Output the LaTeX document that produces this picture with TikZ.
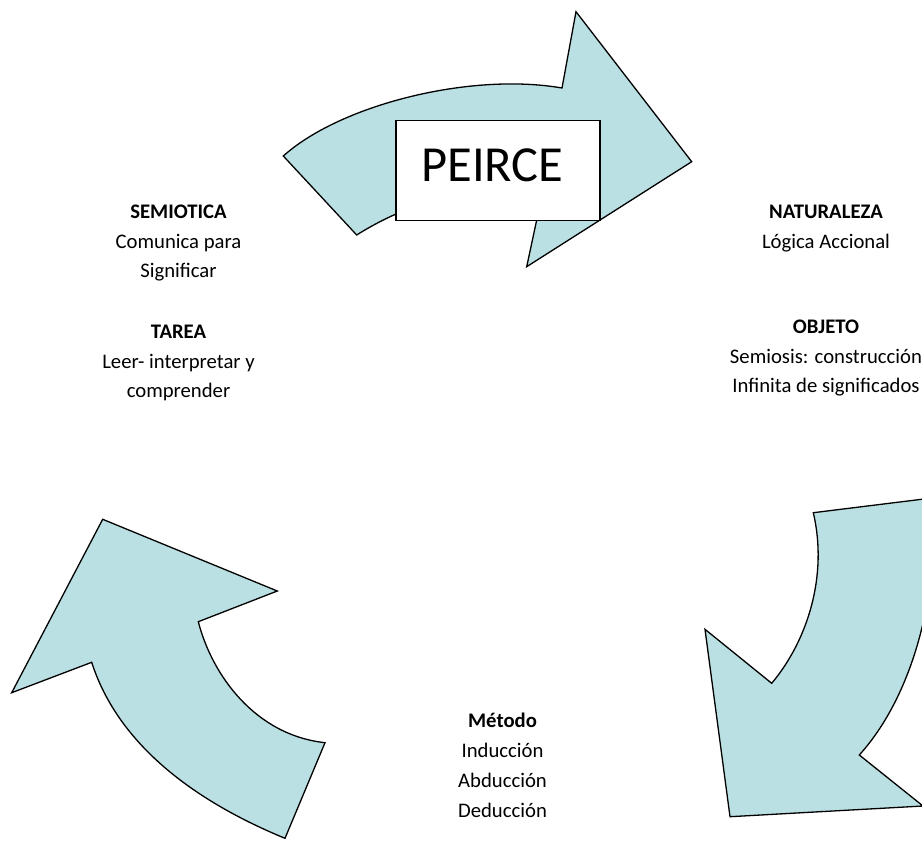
\documentclass[tikz,border=0pt]{standalone}
\usepackage{fontspec}
\setmainfont{Carlito}
\definecolor{arrowfill}{RGB}{186,224,227}
\begin{document}
\begin{tikzpicture}[x=1pt,y=-1pt,
  arrowshape/.style={draw=black, line width=1.3pt, fill=arrowfill, line join=miter},
  txt/.style={anchor=base, inner sep=0pt, font=\fontsize{20.7pt}{24pt}\selectfont},
  hd/.style={anchor=base, inner sep=0pt, font=\fontsize{20.7pt}{24pt}\selectfont\bfseries},
  box/.style={draw=black, line width=1.3pt, fill=white, minimum width=204pt, minimum height=100pt, inner sep=0pt}]
\useasboundingbox (0,0) rectangle (922,844);
\clip (0,0) rectangle (922,844);

% top arrow
\path[arrowshape] (283.3,156) .. controls (340,105) and (470,72) .. (562,88)
  -- (576,11.7) -- (691.7,161.7) -- (526.7,266.7) -- (543,190.6)
  .. controls (477.6,183.6) and (412.3,199.9) .. (356.7,235) -- cycle;
\node[box] (box) at (498,170.7) {};
\node[anchor=base, inner sep=0pt, font=\fontsize{50.5pt}{60pt}\selectfont] (peirce) at (492.5,181.7) {PEIRCE};

% right arrow
\path[arrowshape] (813.3,512.7) -- (932,498) .. controls (940,580) and (918,690) .. (859.3,755)
  -- (923,806) -- (730,816.7) -- (705,629.3) -- (771.7,683.3)
  .. controls (808,640) and (828,575) .. (813.3,512.7) -- cycle;

% left arrow
\path[arrowshape] (102.7,519.3) -- (277.3,591) -- (198.3,621.7)
  .. controls (212,675) and (255,735) .. (325,742.7) -- (285,838.3)
  .. controls (180,795) and (115,735) .. (91.7,662.3) -- (11.7,692.7) -- cycle;

% left text
\node[hd]  (l1) at (178.5,218.3) {SEMIOTICA};
\node[txt] (l2) at (178.5,248.3) {Comunica para};
\node[txt] (l3) at (178.5,277.7) {Significar};
\node[hd]  (l4) at (178.5,338.3) {TAREA};
\node[txt] (l5) at (178.5,368) {Leer- interpretar y};
\node[txt] (l6) at (178.5,397.3) {comprender};

% right text
\node[hd]  (r1) at (826,218.5) {NATURALEZA};
\node[txt] (r2) at (826,248) {Lógica Accional};
\node[hd]  (r3) at (826,333.5) {OBJETO};
\node[txt] (r4) at (826,363) {Semiosis: construcción};
\node[txt] (r5) at (826,392) {Infinita de significados};

% bottom text
\node[hd]  (b1) at (502.5,727.3) {Método};
\node[txt] (b2) at (502.5,757.3) {Inducción};
\node[txt] (b3) at (502.5,787.3) {Abducción};
\node[txt] (b4) at (502.5,817) {Deducción};
\end{tikzpicture}
\end{document}
